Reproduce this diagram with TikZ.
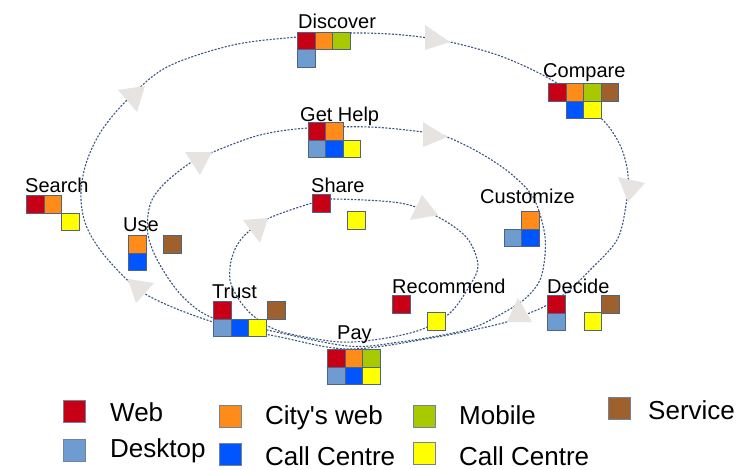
\documentclass[tikz,border=0pt]{standalone}
\usepackage{fontspec}
\setmainfont{Liberation Sans}[Ligatures=TeXOff]
\definecolor{cweb}{RGB}{200,0,22}
\definecolor{ccity}{RGB}{255,140,24}
\definecolor{cmob}{RGB}{168,200,0}
\definecolor{cserv}{RGB}{158,96,44}
\definecolor{cdesk}{RGB}{110,155,208}
\definecolor{ccall}{RGB}{0,85,255}
\definecolor{cyel}{RGB}{255,255,0}
\definecolor{sqb}{RGB}{80,100,130}
\definecolor{loopc}{RGB}{60,85,125}
\definecolor{arrc}{RGB}{230,227,225}
\tikzset{
  sq/.style={draw=sqb, line width=0.6pt, minimum size=17.5pt, inner sep=0pt, anchor=north west},
  lsq/.style={draw=sqb!80, line width=0.6pt, minimum size=21.5pt, inner sep=0pt, anchor=north west},
  lbl/.style={anchor=base west, inner sep=0pt, font=\fontsize{20}{24}\selectfont},
  leg/.style={anchor=base west, inner sep=0pt, font=\fontsize{26}{30}\selectfont},
  loopline/.style={draw=loopc, line width=1.1pt, dash pattern=on 2pt off 1.5pt},
  arrowhead/.style={fill=arrc}
}
\begin{document}
\begin{tikzpicture}[x=1pt,y=-1pt]
\useasboundingbox (0,0) rectangle (753,469);
\fill[white] (0,0) rectangle (753,469);
% loops
\draw[loopline] plot[smooth cycle, tension=0.55] coordinates {
 (350,349) (280,337) (213,322) (147,295) (110,262) (88,230) (81,200) (85,167) (100,133) (127,100) (167,67) (233,45) (297,37) (350,33) (403,35) (450,42) (503,57) (555,82) (600,117) (620,145) (628,175) (626,205) (617,240) (590,270) (567,292) (547,305) (532,312) (503,323) (437,337)};
\draw[loopline] plot[smooth cycle, tension=0.55] coordinates {
 (348,346) (267,330) (213,318) (183,297) (160,265) (148,235) (150,205) (163,185) (190,163) (213,152) (260,135) (308,128) (370,127) (423,132) (447,137) (480,153) (510,173) (533,197) (544,230) (545,255) (540,280) (527,297) (510,309) (480,325) (453,333) (400,342)};
\draw[loopline] plot[smooth cycle, tension=0.55] coordinates {
 (340,342) (290,334) (268,326) (250,313) (238,298) (230,280) (232,257) (243,237) (267,219) (312,203) (330,199) (400,203) (438,217) (467,238) (478,265) (470,285) (450,313) (420,330) (380,339)};
% arrowheads
\fill[arrowhead] (128,279) -- (154,283) -- (136,303) -- cycle;
\fill[arrowhead] (118,90) -- (145,86) -- (137,112) -- cycle;
\fill[arrowhead] (425,25) -- (450,42) -- (425,50) -- cycle;
\fill[arrowhead] (618,177) -- (645,183) -- (628,202) -- cycle;
\fill[arrowhead] (507,322) -- (518,298) -- (532,322) -- cycle;
\fill[arrowhead] (185,152) -- (212,152) -- (200,175) -- cycle;
\fill[arrowhead] (423,122) -- (447,137) -- (423,147) -- cycle;
\fill[arrowhead] (243,220) -- (268,218) -- (260,243) -- cycle;
\fill[arrowhead] (410,220) -- (422,195) -- (438,215) -- cycle;
% Discover
\node[lbl] (tDiscover) at (298,28) {Discover};
\node[sq,fill=cweb] (dis1) at (297,31.5) {};
\node[sq,fill=ccity] (dis2) at (314.5,31.5) {};
\node[sq,fill=cmob] (dis3) at (332,31.5) {};
\node[sq,fill=cdesk] (dis4) at (297,49) {};
% Compare
\node[lbl] (tCompare) at (543,77) {Compare};
\node[sq,fill=cweb] (cmp1) at (548,83) {};
\node[sq,fill=ccity] (cmp2) at (565.5,83) {};
\node[sq,fill=cmob] (cmp3) at (583,83) {};
\node[sq,fill=cserv] (cmp4) at (600.5,83) {};
\node[sq,fill=ccall] (cmp5) at (565.5,100.5) {};
\node[sq,fill=cyel] (cmp6) at (583,100.5) {};
% Get Help
\node[lbl] (tGetHelp) at (300,121) {Get Help};
\node[sq,fill=cweb] (gh1) at (307.5,122) {};
\node[sq,fill=ccity] (gh2) at (325,122) {};
\node[sq,fill=cdesk] (gh3) at (307.5,139.5) {};
\node[sq,fill=ccall] (gh4) at (325,139.5) {};
\node[sq,fill=cyel] (gh5) at (342.5,139.5) {};
% Share
\node[lbl] (tShare) at (311,192) {Share};
\node[sq,fill=cweb] (sh1) at (312,194) {};
\node[sq,fill=cyel] (sh2) at (347,211) {};
% Search
\node[lbl] (tSearch) at (25,192) {Search};
\node[sq,fill=cweb] (se1) at (26,195) {};
\node[sq,fill=ccity] (se2) at (43.5,195) {};
\node[sq,fill=cyel] (se3) at (61,212.5) {};
% Use
\node[lbl] (tUse) at (123,231) {Use};
\node[sq,fill=ccity] (us1) at (128,235) {};
\node[sq,fill=ccall] (us2) at (128,252.5) {};
\node[sq,fill=cserv] (us3) at (163,235) {};
% Customize
\node[lbl] (tCustomize) at (480,203) {Customize};
\node[sq,fill=ccity] (cu1) at (521,211) {};
\node[sq,fill=cdesk] (cu2) at (503.5,228.5) {};
\node[sq,fill=ccall] (cu3) at (521,228.5) {};
% Recommend
\node[lbl] (tRecommend) at (392,293) {Recommend};
\node[sq,fill=cweb] (re1) at (392,295) {};
\node[sq,fill=cyel] (re2) at (427,312) {};
% Decide
\node[lbl] (tDecide) at (547,293) {Decide};
\node[sq,fill=cweb] (de1) at (547,295) {};
\node[sq,fill=cdesk] (de2) at (547,312.5) {};
\node[sq,fill=cserv] (de3) at (601,295) {};
\node[sq,fill=cyel] (de4) at (583.5,312) {};
% Trust
\node[lbl] (tTrust) at (212,298) {Trust};
\node[sq,fill=cweb] (tr1) at (213,301) {};
\node[sq,fill=cdesk] (tr2) at (213,318.5) {};
\node[sq,fill=ccall] (tr3) at (230.5,318.5) {};
\node[sq,fill=cyel] (tr4) at (248,318.5) {};
\node[sq,fill=cserv] (tr5) at (267,301) {};
% Pay
\node[lbl] (tPay) at (337,339) {Pay};
\node[sq,fill=cweb] (pa1) at (327,349) {};
\node[sq,fill=ccity] (pa2) at (344.5,349) {};
\node[sq,fill=cmob] (pa3) at (362,349) {};
\node[sq,fill=cdesk] (pa4) at (327,366.5) {};
\node[sq,fill=ccall] (pa5) at (344.5,366.5) {};
\node[sq,fill=cyel] (pa6) at (362,366.5) {};
% legend
\node[lsq,fill=cweb] (lg1) at (63,400) {};
\node[leg] (lt1) at (110,421) {Web};
\node[lsq,fill=ccity] (lg2) at (219,405) {};
\node[leg] (lt2) at (265,424) {City's web};
\node[lsq,fill=cmob] (lg3) at (413,405) {};
\node[leg] (lt3) at (459,424) {Mobile};
\node[lsq,fill=cserv] (lg4) at (608,397) {};
\node[leg] (lt4) at (648,419) {Service};
\node[lsq,fill=cdesk] (lg5) at (63,439) {};
\node[leg] (lt5) at (110,457) {Desktop};
\node[lsq,fill=ccall] (lg6) at (219,443) {};
\node[leg] (lt6) at (265,465) {Call Centre};
\node[lsq,fill=cyel] (lg7) at (413,442) {};
\node[leg] (lt7) at (459,465) {Call Centre};
\end{tikzpicture}
\end{document}
